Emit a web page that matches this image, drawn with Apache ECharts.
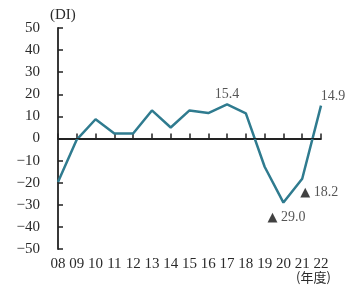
<!DOCTYPE html>
<html><head><meta charset="utf-8">
<script src="https://cdn.jsdelivr.net/npm/echarts@6/dist/echarts.min.js"></script>
<style>html,body{margin:0;padding:0;background:#fff}#c{width:358px;height:291px}</style>
</head><body><div id="c"></div>
<script>
const categories = ['08','09','10','11','12','13','14','15','16','17','18','19','20','21','22'];
const values = [-19.7, -0.5, 8.7, 2.3, 2.3, 12.7, 5.0, 12.7, 11.5, 15.4, 11.4, -12.8, -29.0, -18.2, 14.9];
const yTicks = { min: -50, max: 50, interval: 10 };
const labelText = { 9: '15.4', 12: '{t|▲} 29.0', 13: '{t|▲} 18.2', 14: '14.9' };
const labelOffset = { 9: [0, 3], 12: [3, 2], 13: [17, 14], 14: [12, 4] };
const labelPos = { 9: 'top', 12: 'bottom', 13: 'inside', 14: 'top' };

const font = "'Liberation Serif', 'DejaVu Serif', serif";
const txt = '#2a2a2a';
const labelData = [];
values.forEach((v, i) => {
  if (labelText[i] === undefined) return;
  labelData.push({ value: [categories[i], v], label: { show: true, formatter: labelText[i], position: labelPos[i], offset: labelOffset[i],
    fontFamily: font, fontSize: 14, color: txt,
    rich: { t: { fontFamily: "'DejaVu Sans', sans-serif", fontSize: 13, color: '#111' } } } });
});
const chart = echarts.init(document.getElementById('c'));
chart.setOption({
  animation: false,
  grid: { left: 58, right: 37, top: 28, bottom: 42 },
  xAxis: {
    type: 'category', data: categories, boundaryGap: false,
    axisLine: { lineStyle: { color: '#222', width: 1.8 } },
    axisTick: { inside: true, length: 5, lineStyle: { color: '#222', width: 1.5 } },
    axisLabel: { fontFamily: font, fontSize: 15, color: txt, margin: 8, interval: 0 }
  },
  yAxis: {
    type: 'value', min: yTicks.min, max: yTicks.max, interval: yTicks.interval,
    splitLine: { show: false },
    axisLine: { show: true, lineStyle: { color: '#222', width: 1.8 } },
    axisTick: { show: true, inside: true, length: 5, lineStyle: { color: '#222', width: 1.5 } },
    axisLabel: { fontFamily: font, fontSize: 15, color: txt, margin: 18,
      formatter: v => v < 0 ? '\u2212' + Math.abs(v) : String(v) }
  },
  graphic: [
    { type: 'text', left: 50, top: 8, style: { text: '(DI)', fontFamily: font, fontSize: 15, fill: txt } },
    { type: 'text', left: 296, top: 271, style: { text: '(年度)', fontFamily: "'Noto Sans CJK JP', sans-serif", fontSize: 13, fill: txt } }
  ],
  series: [{
    type: 'line', data: values, symbol: 'none',
    lineStyle: { color: '#2f7b8f', width: 2.5 },
    markLine: { silent: true, symbol: 'none', label: { show: false },
      lineStyle: { color: '#222', width: 1.2, type: 'solid' }, data: [{ yAxis: 0 }] }
  }, {
    type: 'scatter', data: labelData, symbolSize: 2,
    itemStyle: { color: 'rgba(0,0,0,0)' }
  }]
});
</script></body></html>
